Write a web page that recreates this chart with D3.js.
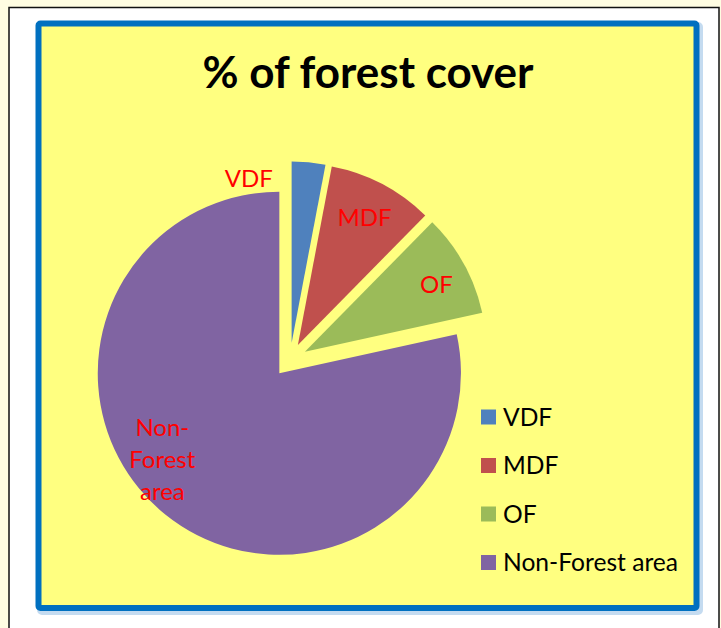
<!DOCTYPE html>
<html>
<head>
<meta charset="utf-8">
<script src="https://cdn.jsdelivr.net/npm/d3@7"></script>
<style>
  html, body { margin: 0; padding: 0; background: #FFFDE2; }
  svg { display: block; }
</style>
</head>
<body>
<svg id="chart" width="721" height="628"></svg>
<script>
// ---- data ----
const categories = ["VDF", "MDF", "OF", "Non-Forest area"];
const values = [2.99, 9.38, 9.18, 78.45];
const labelLines = [["VDF"], ["MDF"], ["OF"], ["Non-", "Forest", "area"]];
const colors = ["#4F81BD", "#C0504D", "#9BBB59", "#8064A2"];
const title = "% of forest cover";

// ---- layout ----
const W = 721, H = 628;
const svg = d3.select("#chart");
const FONT = "Lato, 'Open Sans', sans-serif";

svg.append("rect").attr("x", 0).attr("y", 0).attr("width", W).attr("height", H).attr("fill", "#FFFDE2");
svg.append("rect").attr("x", 9).attr("y", 7.5).attr("width", 710).attr("height", 640)
  .attr("fill", "#FFFFFF").attr("stroke", "#111").attr("stroke-width", 1.5);
// shadow of blue frame
svg.append("rect").attr("x", 40).attr("y", 25).attr("width", 660).attr("height", 587)
  .attr("rx", 2).attr("fill", "none").attr("stroke", "#C4DBF0").attr("stroke-width", 6);
svg.append("rect").attr("x", 38.5).attr("y", 23.5).attr("width", 658).attr("height", 584.5)
  .attr("rx", 2).attr("fill", "#FFFF80").attr("stroke", "#0070C0").attr("stroke-width", 6);

svg.append("text").attr("x", 368).attr("y", 88)
  .attr("text-anchor", "middle")
  .attr("font-family", FONT).attr("font-weight", "bold").attr("font-size", 44)
  .attr("fill", "#000").text(title);

// ---- pie ----
const cx = 290, cy = 360, r = 181.6, explode = 17;
const pie = d3.pie().sort(null).value(d => d)(values);
const arc = d3.arc().innerRadius(0).outerRadius(r);
const g = svg.append("g").attr("transform", `translate(${cx},${cy})`);

g.selectAll("path.slice").data(pie).enter().append("path")
  .attr("class", "slice")
  .attr("d", arc)
  .attr("fill", (d, i) => colors[i])
  .attr("transform", d => {
    const a = (d.startAngle + d.endAngle) / 2;
    return `translate(${explode * Math.sin(a)},${-explode * Math.cos(a)})`;
  });

// label placement (polar: degrees clockwise from 12 o'clock, radius from pie centre)
const labelPolar = [[-12.8, 186], [27.6, 161], [62.6, 165], [232, 162]];
const LFS = 24;
g.selectAll("text.lbl").data(pie).enter().append("text")
  .attr("class", "lbl")
  .attr("font-family", FONT).attr("font-size", LFS).attr("fill", "#FF0000")
  .attr("text-anchor", "middle")
  .each(function(d, i) {
    const [deg, rr] = labelPolar[i];
    const a = deg * Math.PI / 180;
    const x = rr * Math.sin(a), y = -rr * Math.cos(a);
    const lines = labelLines[i];
    const lh = 32;
    const t = d3.select(this);
    lines.forEach((ln, k) => {
      t.append("tspan").attr("x", x)
        .attr("y", y + (k - (lines.length - 1) / 2) * lh + 8.5)
        .text(ln);
    });
  });

// ---- legend ----
const legY = d3.scalePoint().domain(categories).range([417, 562.5]);
const leg = svg.append("g");
categories.forEach((c, i) => {
  leg.append("rect").attr("x", 481).attr("y", legY(c) - 7.5).attr("width", 15).attr("height", 15)
    .attr("fill", colors[i]);
  leg.append("text").attr("x", 503).attr("y", legY(c) + 8.5)
    .attr("font-family", FONT).attr("font-size", 24.6).attr("fill", "#000").text(c);
});
</script>
</body>
</html>
